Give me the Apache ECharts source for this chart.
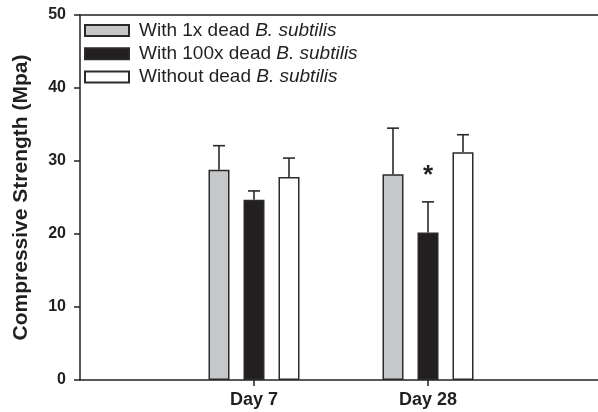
<!DOCTYPE html>
<html>
<head>
<meta charset="utf-8">
<script src="https://cdn.jsdelivr.net/npm/echarts@6/dist/echarts.min.js"></script>
<style>html,body{margin:0;padding:0;background:#fff;overflow:hidden;width:598px;height:412px}#c{width:602px;height:412px}</style>
</head>
<body>
<div id="c"></div>
<script>
// ---- data ----
var categories = ['Day 7', 'Day 28'];
var categoryPos = [1, 2];
var seriesNames = ['With 1x dead B. subtilis', 'With 100x dead B. subtilis', 'Without dead B. subtilis'];
var legendPlain = ['With 1x dead ', 'With 100x dead ', 'Without dead '];
var means1x = [28.8, 28.2];
var means100x = [24.7, 20.2];
var meansNone = [27.8, 31.2];
var err1x = [3.3, 6.3];
var err100x = [1.2, 4.2];
var errNone = [2.6, 2.4];
var yTicks = [0, 10, 20, 30, 40, 50];
var sigMarkX = [2];
var sigMarkY = [28.0];
var sigMarkText = ['*'];

// ---- style ----
var fills = ['#c6c7c9', '#231f20', '#ffffff'];
var edge = '#2a2a2a';
var barW = 21, step = 35;
var font = 'Liberation Sans, Arial, sans-serif';

var allMeans = [means1x, means100x, meansNone];
var allErr = [err1x, err100x, errNone];

var series = [];
allMeans.forEach(function (m, k) {
  series.push({
    name: seriesNames[k],
    type: 'bar',
    barWidth: barW,
    barGap: ((step - barW) / barW * 100) + '%',
    data: m.map(function (v, i) { return [categoryPos[i], v]; }),
    itemStyle: { color: fills[k], borderColor: edge, borderWidth: 1.5 },
    emphasis: { disabled: true },
    z: 2
  });
});

var errData = [];
allMeans.forEach(function (m, k) {
  m.forEach(function (v, i) { errData.push([categoryPos[i], v, allErr[k][i], k]); });
});

series.push({
  type: 'custom',
  silent: true,
  z: 3,
  data: errData,
  renderItem: function (params, api) {
    var x = api.value(0), v = api.value(1), e = api.value(2), k = api.value(3);
    var off = (k - 1) * step;
    var p0 = api.coord([x, v]);
    var p1 = api.coord([x, v + e]);
    var cx = p0[0] + off;
    var st = { stroke: '#2a2a2a', lineWidth: 1.6 };
    return {
      type: 'group',
      children: [
        { type: 'line', shape: { x1: cx, y1: p0[1], x2: cx, y2: p1[1] }, style: st },
        { type: 'line', shape: { x1: cx - 6, y1: p1[1], x2: cx + 6, y2: p1[1] }, style: st }
      ]
    };
  }
});

series.push({
  type: 'custom',
  silent: true,
  z: 4,
  data: sigMarkX.map(function (x, i) { return [x, sigMarkY[i], i]; }),
  renderItem: function (params, api) {
    var p = api.coord([api.value(0), api.value(1)]);
    return {
      type: 'text',
      style: {
        x: p[0], y: p[1], text: sigMarkText[api.value(2)],
        fontSize: 26, fontWeight: 'bold', fontFamily: font, fill: '#231f20',
        align: 'center', verticalAlign: 'middle'
      }
    };
  }
});

var axisLineStyle = { color: '#222', width: 1.5 };

var chart = echarts.init(document.getElementById('c'), null, { renderer: 'canvas', width: 602, height: 412 });
chart.setOption({
  animation: false,
  backgroundColor: '#fff',
  grid: { left: 80, right: 0, top: 15, bottom: 32 },
  legend: {
    orient: 'vertical',
    left: 84,
    top: 21,
    padding: 0,
    itemGap: 4.3,
    itemWidth: 44,
    itemHeight: 11,
    icon: 'rect',
    selectedMode: false,
    data: seriesNames,
    formatter: function (name) {
      var i = seriesNames.indexOf(name);
      return legendPlain[i] + '{i|B. subtilis}';
    },
    textStyle: {
      fontFamily: font, fontSize: 19, color: '#231f20', lineHeight: 19, padding: [0, 0, 0, 5],
      rich: { i: { fontStyle: 'italic', fontFamily: font, fontSize: 19, color: '#231f20', lineHeight: 19 } }
    }
  },
  xAxis: [{
    type: 'value',
    min: 0, max: 3, interval: 1,
    splitLine: { show: false },
    axisLine: { show: true, lineStyle: axisLineStyle },
    axisTick: { show: true, customValues: categoryPos, length: 6, lineStyle: axisLineStyle },
    axisLabel: {
      customValues: categoryPos,
      formatter: function (v) { var i = categoryPos.indexOf(v); return i >= 0 ? categories[i] : ''; },
      fontFamily: font, fontSize: 18, fontWeight: 'bold', color: '#231f20', margin: 11
    }
  }, {
    type: 'value',
    position: 'top',
    min: 0, max: 3,
    splitLine: { show: false },
    axisLine: { show: true, lineStyle: axisLineStyle },
    axisTick: { show: false },
    axisLabel: { show: false }
  }],
  yAxis: {
    type: 'value',
    min: yTicks[0], max: yTicks[yTicks.length - 1], interval: 10,
    name: 'Compressive Strength (Mpa)',
    nameLocation: 'middle',
    nameGap: 48,
    nameTextStyle: { fontFamily: font, fontSize: 21, fontWeight: 'bold', color: '#231f20' },
    splitLine: { show: false },
    axisLine: { show: true, lineStyle: axisLineStyle },
    axisTick: { show: true, length: 6, lineStyle: axisLineStyle },
    axisLabel: { fontFamily: font, fontSize: 16, fontWeight: 'bold', color: '#231f20', margin: 14 }
  },
  series: series
});
</script>
</body>
</html>
